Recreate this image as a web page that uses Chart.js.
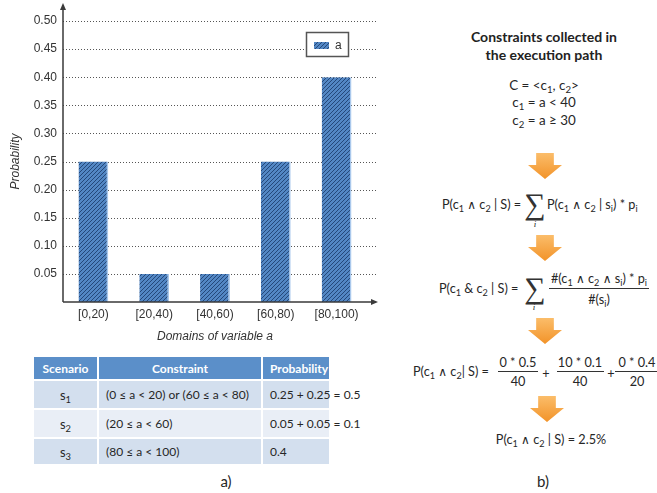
<!DOCTYPE html>
<html lang="en">
  <head>
    <meta charset="UTF-8" />
    <title>Probability of constraints</title>
    <script src="https://cdn.jsdelivr.net/npm/chart.js"></script>
    <style>
      body { margin: 0; background: #fff; }
      #page { position: relative; width: 657px; height: 493px; overflow: hidden; font-family: Lato, "Open Sans", sans-serif; color: #262626; }
      #chartBox { position: absolute; left: 0; top: 0; width: 400px; height: 345px; }
      table { position: absolute; left: 32px; top: 355px; width: 299px; border-collapse: collapse; table-layout: fixed; font-size: 12px; }
      th, td { border: 2px solid #fff; padding: 0 7px; white-space: nowrap; overflow: visible; }
      th { background: #5b8fc9; color: #fff; height: 20px; font-weight: bold; overflow: hidden; }
      td { text-align: left; }
      td.sc { text-align: center; font-size: 13px; }
      tr.odd td { background: #d3dfee; }
      tr.even td { background: #e9eef6; }
      sub { font-size: 0.72em; vertical-align: -0.3em; line-height: 0; }
      .w { font-family: "DejaVu Sans", sans-serif; font-size: 0.95em; }
      .t { position: absolute; white-space: nowrap; transform: translate(-50%, -50%); font-size: 12.7px; }
      .l { position: absolute; white-space: nowrap; transform: translate(0, -50%); font-size: 12.7px; }
      .big { font-size: 13.4px; }
      .bold { font-weight: bold; font-size: 14px; color: #222; }
      .sig { font-size: 30px; font-family: "Liberation Serif", serif; font-weight: normal; color: #333; }
      .ii { font-style: italic; font-size: 9px; font-family: "Liberation Serif", serif; }
      .bar { position: absolute; height: 1px; background: #333; }
      .arrow { position: absolute; width: 34px; height: 26px; background: linear-gradient(#fbbd6a, #f29329);
        clip-path: polygon(24% 0, 76% 0, 76% 46%, 100% 46%, 50% 100%, 0 46%, 24% 46%); }
      .cap { position: absolute; font-size: 15px; transform: translate(-50%, -50%); }
    </style>
  </head>
  <body>
    <div id="page">
      <div id="chartBox"><canvas id="barChart"></canvas></div>

      <table id="scenarios">
        <colgroup><col style="width:65px" /><col style="width:164px" /><col /></colgroup>
        <thead>
          <tr style="height:24px"><th>Scenario</th><th>Constraint</th><th>Probability</th></tr>
        </thead>
        <tbody></tbody>
      </table>
      <div class="cap" style="left:226px;top:481px">a)</div>

      <div class="t bold" style="left:544px;top:36px">Constraints collected in</div>
      <div class="t bold" style="left:544px;top:54px">the execution path</div>
      <div class="t big" style="left:544px;top:85px">C = &lt;c<sub>1</sub>, c<sub>2</sub>&gt;</div>
      <div class="t big" style="left:544px;top:102px">c<sub>1</sub> = a &lt; 40</div>
      <div class="t big" style="left:544px;top:120px">c<sub>2</sub> = a ≥ 30</div>

      <div class="arrow" style="left:528px;top:153px"></div>

      <div class="l" style="left:442px;top:204px">P(c<sub>1</sub> <span class="w">∧</span> c<sub>2</sub> | S) =</div>
      <div class="t sig" style="left:535px;top:204px">∑</div>
      <div class="t ii" style="left:535px;top:224px">i</div>
      <div class="l" style="left:547px;top:204px">P(c<sub>1</sub> <span class="w">∧</span> c<sub>2</sub> | s<sub>i</sub>) * p<sub>i</sub></div>

      <div class="arrow" style="left:528px;top:235px"></div>

      <div class="l" style="left:439px;top:288px">P(c<sub>1</sub> &amp; c<sub>2</sub> | S) =</div>
      <div class="t sig" style="left:535px;top:288px">∑</div>
      <div class="t ii" style="left:534px;top:307px">i</div>
      <div class="t" style="left:599px;top:278px">#(c<sub>1</sub> <span class="w">∧</span> c<sub>2</sub> <span class="w">∧</span> s<sub>i</sub>) * p<sub>i</sub></div>
      <div class="bar" style="left:549px;top:288px;width:100px"></div>
      <div class="t" style="left:599px;top:299px">#(s<sub>i</sub>)</div>

      <div class="arrow" style="left:528px;top:318px"></div>

      <div class="l" style="left:413px;top:371px">P(c<sub>1</sub> <span class="w">∧</span> c<sub>2</sub>| S) =</div>
      <div class="t" style="left:518px;top:362px">0 * 0.5</div>
      <div class="bar" style="left:498px;top:371px;width:40px"></div>
      <div class="t" style="left:518px;top:381px">40</div>
      <div class="t" style="left:546px;top:373px">+</div>
      <div class="t" style="left:580px;top:362px">10 * 0.1</div>
      <div class="bar" style="left:557px;top:371px;width:47px"></div>
      <div class="t" style="left:580px;top:381px">40</div>
      <div class="t" style="left:611px;top:373px">+</div>
      <div class="t" style="left:637px;top:362px">0 * 0.4</div>
      <div class="bar" style="left:615px;top:371px;width:42px"></div>
      <div class="t" style="left:637px;top:381px">20</div>

      <div class="arrow" style="left:530px;top:396px"></div>

      <div class="t" style="left:551px;top:439px">P(c<sub>1</sub> <span class="w">∧</span> c<sub>2</sub> | S) = 2.5%</div>
      <div class="cap" style="left:543px;top:481px">b)</div>
    </div>

    <script>
      // domains of variable a and their probability
      const categories = ["[0,20)", "[20,40)", "[40,60)", "[60,80)", "[80,100)"];
      const probabilities = [0.25, 0.05, 0.05, 0.25, 0.4];
      const seriesName = "a";

      // table of scenarios
      const scenarios = ["1", "2", "3"];
      const constraints = ["(0 ≤ a < 20) or (60 ≤ a < 80)", "(20 ≤ a < 60)", "(80 ≤ a < 100)"];
      const scenarioProbs = ["0.25 + 0.25 = 0.5", "0.05 + 0.05 = 0.1", "0.4"];
      const rowHeights = [29, 29, 27];

      const tbody = document.querySelector("#scenarios tbody");
      scenarios.forEach((s, i) => {
        const tr = document.createElement("tr");
        tr.className = i % 2 === 0 ? "odd" : "even";
        tr.style.height = rowHeights[i] + "px";
        tr.innerHTML = '<td class="sc">s<sub>' + s + '</sub></td><td></td><td></td>';
        tr.children[1].textContent = constraints[i];
        tr.children[2].textContent = scenarioProbs[i];
        tbody.appendChild(tr);
      });

      // hatched fill like the office chart
      function hatch() {
        const c = document.createElement("canvas");
        c.width = 4;
        c.height = 4;
        const g = c.getContext("2d");
        g.fillStyle = "#5387c4";
        g.fillRect(0, 0, 4, 4);
        g.strokeStyle = "#24487a";
        g.lineWidth = 1;
        g.beginPath();
        g.moveTo(0, 4); g.lineTo(4, 0);
        g.moveTo(-1, 1); g.lineTo(1, -1);
        g.moveTo(3, 5); g.lineTo(5, 3);
        g.stroke();
        return g.createPattern(c, "repeat");
      }
      const barFill = hatch();

      const chartFont = "'Liberation Sans', Arial, sans-serif";

      // dotted grid, arrow axes and boxed legend
      const decor = {
        id: "decor",
        beforeDatasetsDraw(chart) {
          const { ctx, chartArea, scales } = chart;
          ctx.save();
          ctx.strokeStyle = "#555";
          ctx.lineWidth = 1;
          ctx.setLineDash([1, 2]);
          scales.y.ticks.forEach((t) => {
            if (t.value <= 0) return;
            const y = Math.round(scales.y.getPixelForValue(t.value)) + 0.5;
            ctx.beginPath();
            ctx.moveTo(chartArea.left, y);
            ctx.lineTo(chartArea.right + 9, y);
            ctx.stroke();
          });
          ctx.restore();
        },
        afterDraw(chart) {
          const { ctx, chartArea, scales } = chart;
          const x0 = chartArea.left;
          const y0 = scales.y.getPixelForValue(0);
          ctx.save();
          ctx.strokeStyle = "#3a3a3a";
          ctx.fillStyle = "#3a3a3a";
          ctx.lineWidth = 1.5;
          ctx.beginPath();
          ctx.moveTo(x0, y0);
          ctx.lineTo(x0, 8);
          ctx.moveTo(x0, y0);
          ctx.lineTo(chartArea.right + 6, y0);
          ctx.stroke();
          ctx.beginPath();
          ctx.moveTo(x0, 3); ctx.lineTo(x0 - 3, 10); ctx.lineTo(x0 + 3, 10); ctx.closePath();
          ctx.fill();
          const xe = chartArea.right + 11;
          ctx.beginPath();
          ctx.moveTo(xe, y0); ctx.lineTo(xe - 7, y0 - 3); ctx.lineTo(xe - 7, y0 + 3); ctx.closePath();
          ctx.fill();

          // legend box
          ctx.fillStyle = "#fff";
          ctx.fillRect(306, 32, 43, 25);
          ctx.strokeStyle = "#555";
          ctx.lineWidth = 1.5;
          ctx.strokeRect(306.5, 32.5, 42, 24);
          ctx.fillStyle = barFill;
          ctx.fillRect(314, 42, 15, 7);
          ctx.fillStyle = "#333";
          ctx.font = "12px " + chartFont;
          ctx.textBaseline = "middle";
          ctx.fillText(chart.data.datasets[0].label, 335, 45.5);
          ctx.restore();
        },
      };

      new Chart(document.getElementById("barChart"), {
        type: "bar",
        data: {
          labels: categories,
          datasets: [
            {
              label: seriesName,
              data: probabilities,
              backgroundColor: barFill,
              borderColor: "#a9c8ec",
              borderWidth: { left: 0, right: 1.5, top: 0, bottom: 0 },
              borderSkipped: false,
              barPercentage: 0.49,
              categoryPercentage: 1,
            },
          ],
        },
        options: {
          responsive: true,
          maintainAspectRatio: false,
          animation: false,
          layout: { padding: { left: 0, top: 21, right: 33, bottom: 0 } },
          plugins: { legend: { display: false }, tooltip: { enabled: false } },
          scales: {
            x: {
              grid: { display: false, drawTicks: false },
              border: { display: false },
              ticks: { color: "#333", font: { family: chartFont, size: 12 }, padding: 5 },
              title: {
                display: true,
                text: "Domains of variable a",
                color: "#333",
                font: { family: chartFont, size: 12, style: "italic" },
                padding: { top: 0, bottom: 1 },
              },
              afterFit(s) { s.height = 43; },
            },
            y: {
              min: 0,
              max: 0.5,
              grid: { display: false, drawTicks: false },
              border: { display: false },
              ticks: {
                stepSize: 0.05,
                color: "#333",
                font: { family: chartFont, size: 12 },
                padding: 6,
                callback: (v) => (v === 0 ? "" : v.toFixed(2)),
              },
              title: {
                display: true,
                text: "Probability",
                color: "#333",
                font: { family: chartFont, size: 12, style: "italic" },
                padding: { top: 8, bottom: 0 },
              },
              afterFit(s) { s.width = 63; },
            },
          },
        },
        plugins: [decor],
      });
    </script>
  </body>
</html>
